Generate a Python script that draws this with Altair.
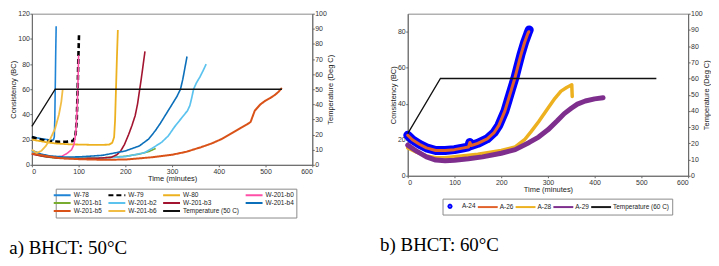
import altair as alt
import pandas as pd

# ---------------- axis ticks ----------------
x_ticks = [0, 100, 200, 300, 400, 500, 600]
temp_ticks = [0, 10, 20, 30, 40, 50, 60, 70, 80, 90, 100]
a_cons_ticks = [0, 20, 40, 60, 80, 100, 120]
b_cons_ticks = [0, 10, 20, 30, 40, 50, 60, 70, 80, 90]

# ---------------- panel a : BHCT 50 C ----------------
w78_t = [0, 10, 20, 30, 40, 46, 48, 49, 50, 51, 52]
w78_v = [22.5, 21.5, 20.8, 20.2, 19.6, 19.8, 22, 35, 60, 88, 110]

w79_t = [0, 15, 30, 45, 60, 75, 88, 93, 96, 98, 99.5, 101]
w79_v = [22, 20.5, 19.2, 18.5, 18.2, 18.4, 19, 22, 35, 60, 85, 105]

w80_t = [0, 15, 30, 50, 80, 110, 140, 165, 172, 176, 178, 180, 182, 184]
w80_v = [20, 19, 18, 17, 16.3, 16, 15.8, 16, 17.5, 22, 35, 60, 85, 107]

b0_t = [0, 20, 40, 55, 65, 75, 85, 90, 94, 97, 99, 100]
b0_v = [9, 7, 6, 6, 7, 9, 12, 16, 25, 45, 70, 87]

b1_t = [0, 20, 40, 60, 100, 150, 200, 230, 250, 265]
b1_v = [9, 7, 5.8, 5.2, 5.2, 5.5, 6.8, 8.5, 10.5, 13]

b2_t = [0, 20, 40, 60, 100, 150, 200, 240, 257, 278, 292, 305, 320, 333, 338, 342, 346, 352, 360, 368, 373]
b2_v = [10.5, 8, 6.5, 5.5, 5, 5.3, 6.5, 9.5, 13, 18, 23, 30, 37, 43, 47, 53, 60, 65, 70, 76, 80]

b3_t = [0, 30, 60, 100, 140, 170, 182, 190, 198, 207, 214, 221, 226, 230, 234, 238, 242]
b3_v = [8.5, 6.5, 5.2, 5, 5.2, 6, 8, 11, 16, 24, 31, 39, 48, 58, 68, 79, 90]

b4_t = [0, 20, 40, 70, 100, 150, 200, 230, 250, 264, 275, 285, 300, 310, 318, 323, 327, 330, 332]
b4_v = [11.5, 8.5, 7, 6.2, 6.3, 7.5, 11, 15, 20.5, 27, 33, 39, 48, 54, 60, 68, 76, 82, 86]

b5_t = [0, 30, 60, 100, 150, 200, 257, 300, 330, 362, 385, 405, 425, 447, 460, 468, 472, 477,
        489, 500, 510, 520, 528, 535]
b5_v = [9, 7, 5.3, 4.5, 4, 4.2, 6, 8, 10.3, 14, 17, 20.3, 24.5, 29.3, 32, 34, 38, 43,
        48, 51, 53, 55.5, 58, 61]

b6_t = [0, 10, 20, 30, 40, 50, 58, 63, 66]
b6_v = [12, 9.5, 11, 15, 21, 29, 40, 50, 60]

a_temp_t = [0, 50, 535]
a_temp_v = [25.5, 50, 50]

a_names = ["W-78", "W-79", "W-80", "W-201-b0", "W-201-b1", "W-201-b2",
           "W-201-b3", "W-201-b4", "W-201-b5", "W-201-b6"]
a_temp_name = "Temperature (50 C)"
a_times = [w78_t, w79_t, w80_t, b0_t, b1_t, b2_t, b3_t, b4_t, b5_t, b6_t]
a_values = [w78_v, w79_v, w80_v, b0_v, b1_v, b2_v, b3_v, b4_v, b5_v, b6_v]

# styles
a_colors = ["#1f84d6", "#000000", "#edb120", "#ff4fa7", "#77ac30", "#5cc3ef",
            "#a2142f", "#0b6fba", "#d95319", "#f2bd45", "#111111"]
a_widths = [1.6, 2.6, 1.8, 1.6, 1.6, 1.7, 1.6, 1.6, 2.0, 1.8]
a_dashes = [[1, 0], [5, 3], [1, 0], [1, 0], [1, 0], [1, 0], [1, 0], [1, 0], [1, 0], [1, 0], [1, 0]]

# ---------------- panel b : BHCT 60 C ----------------
a24_t = [0, 10, 25, 40, 60, 80, 100, 120, 130, 133, 136, 150, 170, 185, 195, 208, 215, 222,
         229, 235, 242, 250, 257, 260]
a24_v = [22.5, 20, 17.5, 15.5, 14, 14, 14.5, 15.5, 16, 18.5, 16.8, 18, 20.5, 24, 28, 36, 42, 48,
         54, 60, 67, 74, 79, 81]

a26_t = [0, 10, 25, 40, 60, 80, 100, 120, 130, 133, 136, 150, 170, 185, 195, 208, 215, 222,
         229, 235, 242, 250, 257, 259]
a26_v = [22.5, 20, 17.5, 15.5, 14, 14, 14.5, 15.5, 16, 18.5, 16.8, 18, 20.5, 24, 28, 36, 42, 48,
         54, 60, 67, 74, 79, 80]

a28_t = [0, 20, 40, 60, 80, 100, 150, 200, 230, 250, 264, 280, 300, 315, 328, 340, 351, 352]
a28_v = [15.5, 13, 11, 10, 10, 10.5, 12, 14, 16, 20, 24.5, 30, 37.5, 43, 47, 49, 50.5, 44]

a29_t = [0, 20, 40, 60, 80, 100, 130, 160, 200, 230, 260, 280, 300, 320, 335, 350, 363, 380, 400, 418]
a29_v = [17, 13.5, 10.5, 8.7, 8.3, 8.6, 9.4, 10.5, 12.5, 14.5, 18.5, 21.5, 25.5, 30.5, 34.5,
         37.5, 39.8, 41.5, 42.7, 43.3]

b_temp_t = [0, 70, 532]
b_temp_v = [26, 60, 60]

b_names = ["A-24", "A-26", "A-28", "A-29"]
b_temp_name = "Temperature (60 C)"
b_times = [a24_t, a26_t, a28_t, a29_t]
b_values = [a24_v, a26_v, a28_v, a29_v]

b_colors = ["#0000ff", "#e2622c", "#edb120", "#7e2f8e", "#1a1a1a"]
b_widths = [9, 3, 3.5, 5]

# legend symbol shapes (custom paths, unit coordinates)
a_stroke_path = "M-2.833,0L2.833,0"
b_stroke_path = "M-2.5,0L2.5,0"
b_dot_path = "M0.4,0L0.283,0.283L0,0.4L-0.283,0.283L-0.4,0L-0.283,-0.283L0,-0.4L0.283,-0.283Z"
b_shapes = [b_dot_path, b_stroke_path, b_stroke_path, b_stroke_path, b_stroke_path]


def long_df(names, times, values, widths):
    rows = []
    for name, ts, vs, w in zip(names, times, values, widths):
        for t, v in zip(ts, vs):
            rows.append({"series": name, "t": t, "v": v, "w": w})
    return pd.DataFrame(rows)


df_a = long_df(a_names, a_times, a_values, a_widths)
df_at = pd.DataFrame({"t": a_temp_t, "temp": a_temp_v})
df_b = long_df(b_names, b_times, b_values, b_widths)
df_b24 = df_b[df_b["series"] == "A-24"]
df_bt = pd.DataFrame({"t": b_temp_t, "temp": b_temp_v})

a_all = a_names + [a_temp_name]
b_all = b_names + [b_temp_name]


def x_enc():
    return alt.X("t:Q", scale=alt.Scale(domain=[0, 600], nice=False),
                 axis=alt.Axis(values=x_ticks, title="Time (minutes)"))


def temp_y():
    return alt.Y("temp:Q", scale=alt.Scale(domain=[0, 100], nice=False),
                 axis=alt.Axis(values=temp_ticks, orient="right",
                               title="Temperature (Deg C)", titleAngle=270,
                               titleBaseline="top"))


leg_common = dict(title=None, orient="none", direction="horizontal", symbolStrokeWidth=2,
                  labelFontSize=6.5, padding=2.5, strokeColor="#8a8a8a", fillColor="#ffffff",
                  labelColor="#222222", labelFont="Liberation Sans", gridAlign="each")
leg_a = alt.Legend(columns=4, symbolType=a_stroke_path, symbolSize=36, labelOffset=7.5,
                   columnPadding=2, rowPadding=-1, legendX=24, legendY=176, **leg_common)
leg_b = alt.Legend(columns=5, symbolSize=64, labelOffset=7, columnPadding=-2,
                   rowPadding=0, legendX=35, legendY=186, **leg_common)

cons_a = alt.Chart(df_a).mark_line(strokeJoin="round").encode(
    x=x_enc(),
    y=alt.Y("v:Q", scale=alt.Scale(domain=[0, 120], nice=False),
            axis=alt.Axis(values=a_cons_ticks, title="Consistency (BC)")),
    color=alt.Color("series:N", scale=alt.Scale(domain=a_all, range=a_colors), legend=leg_a),
    strokeDash=alt.StrokeDash("series:N", scale=alt.Scale(domain=a_all, range=a_dashes), legend=leg_a),
    strokeWidth=alt.StrokeWidth("w:Q", scale=None, legend=None),
)
temp_a = alt.Chart(df_at).mark_line(color="#111111", strokeWidth=1.3).encode(
    x=alt.X("t:Q"), y=temp_y())

cap_common = dict(orient="bottom", anchor="start", font="Liberation Serif",
                  fontSize=19, fontWeight="normal", color="#000000", offset=21)

panel_a = alt.layer(cons_a, temp_a).resolve_scale(
    y="independent", color="independent", strokeDash="independent"
).properties(width=282, height=152,
             title=alt.TitleParams(text="a) BHCT: 50°C", **cap_common))

carrier_b = alt.Chart(df_b24).mark_point(filled=False, opacity=1, strokeWidth=1).encode(
    x=x_enc(),
    y=alt.Y("v:Q", scale=alt.Scale(domain=[0, 90], nice=False),
            axis=alt.Axis(values=b_cons_ticks, title="Consistency (BC)")),
    color=alt.Color("series:N", scale=alt.Scale(domain=b_all, range=b_colors), legend=leg_b),
    shape=alt.Shape("series:N", scale=alt.Scale(domain=b_all, range=b_shapes), legend=leg_b),
)
lines_b = alt.Chart(df_b).mark_line(strokeJoin="round", strokeCap="round").encode(
    x=alt.X("t:Q"),
    y=alt.Y("v:Q"),
    color=alt.Color("series:N", scale=alt.Scale(domain=b_all, range=b_colors), legend=None),
    strokeWidth=alt.StrokeWidth("w:Q", scale=None, legend=None),
)
inner_b = alt.layer(carrier_b, lines_b).resolve_scale(color="independent", shape="independent")
temp_b = alt.Chart(df_bt).mark_line(color="#111111", strokeWidth=1.3).encode(
    x=alt.X("t:Q"), y=temp_y())

panel_b = alt.layer(inner_b, temp_b).resolve_scale(y="independent").properties(
    width=282, height=163,
    title=alt.TitleParams(text="b) BHCT: 60°C", dx=-9, **cap_common))

chart = alt.hconcat(panel_a, panel_b, spacing=96, bounds="flush").properties(padding=0).configure(
    font="Liberation Sans"
).configure_view(stroke="#8a8a8a", strokeWidth=1).configure_axis(
    labelFontSize=7, titleFontSize=7.5, titleFontWeight="normal",
    labelColor="#333333", titleColor="#222222", domainColor="#666666",
    tickColor="#666666", tickSize=2, labelPadding=0.5, grid=False, titlePadding=0.5,
    labelFont="Liberation Sans", titleFont="Liberation Sans"
)

chart.save("out.html", embed_options={"renderer": "svg", "actions": False})
